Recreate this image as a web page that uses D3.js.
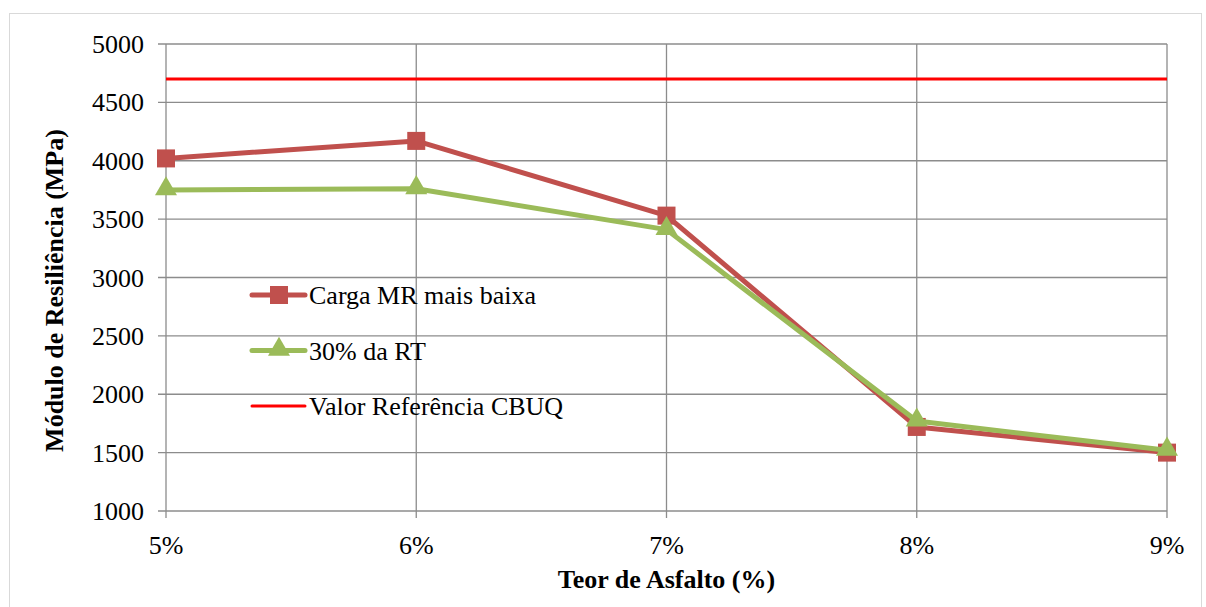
<!DOCTYPE html>
<html>
<head>
<meta charset="utf-8">
<script src="https://cdn.jsdelivr.net/npm/d3@7"></script>
<style>
  body { margin: 0; background: #fff; }
  svg { display: block; }
  text { font-family: "Liberation Serif", "DejaVu Serif", serif; }
</style>
</head>
<body>
<svg id="chart" width="1206" height="607"></svg>
<script>
// Módulo de Resiliência vs teor de asfalto
const categories = ["5%", "6%", "7%", "8%", "9%"];
const cargaMR = [4020, 4170, 3530, 1720, 1500];
const rt30 = [3750, 3760, 3410, 1770, 1520];
const referencia = 4700;
const yTicks = [1000, 1500, 2000, 2500, 3000, 3500, 4000, 4500, 5000];

const svg = d3.select("#chart");
const m = { left: 166, right: 1167, top: 44, bottom: 511 };
const FONT = "Liberation Serif, DejaVu Serif, serif";

// outer frame
svg.append("rect")
  .attr("x", 9.5).attr("y", 13.5)
  .attr("width", 1192).attr("height", 600)
  .attr("fill", "none")
  .attr("stroke", "#d9d9d9")
  .attr("stroke-width", 1);

const x = d3.scalePoint().domain(categories).range([m.left, m.right]);
const y = d3.scaleLinear().domain([1000, 5000]).range([m.bottom, m.top]);

// grid
const grid = svg.append("g").attr("stroke", "#8c8c8c").attr("stroke-width", 1.3);
grid.selectAll("line.h").data(yTicks).join("line")
  .attr("x1", m.left - 8).attr("x2", m.right)
  .attr("y1", d => y(d)).attr("y2", d => y(d));
grid.selectAll("line.v").data(categories).join("line")
  .attr("x1", d => x(d)).attr("x2", d => x(d))
  .attr("y1", m.top).attr("y2", m.bottom + 7);

// y tick labels
svg.append("g").selectAll("text").data(yTicks).join("text")
  .attr("x", m.left - 22)
  .attr("y", d => y(d))
  .attr("dy", "0.35em")
  .attr("text-anchor", "end")
  .attr("font-family", FONT)
  .attr("font-size", 26)
  .attr("fill", "#000")
  .text(d => d);

// x tick labels
svg.append("g").selectAll("text").data(categories).join("text")
  .attr("x", d => x(d))
  .attr("y", m.bottom + 43)
  .attr("text-anchor", "middle")
  .attr("font-family", FONT)
  .attr("font-size", 26)
  .attr("fill", "#000")
  .text(d => d);

// axis titles
svg.append("text")
  .attr("x", (m.left + m.right) / 2).attr("y", 588)
  .attr("text-anchor", "middle")
  .attr("font-family", FONT)
  .attr("font-size", 26).attr("font-weight", "bold")
  .text("Teor de Asfalto (%)");
svg.append("text")
  .attr("transform", `translate(63,${(m.top + m.bottom) / 2 + 13}) rotate(-90)`)
  .attr("text-anchor", "middle")
  .attr("font-family", FONT)
  .attr("font-size", 26).attr("font-weight", "bold")
  .text("Módulo de Resiliência (MPa)");

// reference line
svg.append("line")
  .attr("x1", m.left).attr("x2", m.right)
  .attr("y1", y(referencia)).attr("y2", y(referencia))
  .attr("stroke", "#ff0000").attr("stroke-width", 3);

const line = d3.line().x((d, i) => x(categories[i])).y(d => y(d));
const red = "#c0504d", green = "#9bbb59";
const tri = d3.symbol().type(d3.symbolTriangle).size(210);

svg.append("path").datum(cargaMR)
  .attr("d", line).attr("fill", "none")
  .attr("stroke", red).attr("stroke-width", 5).attr("stroke-linejoin", "round");
svg.append("g").selectAll("rect").data(cargaMR).join("rect")
  .attr("x", (d, i) => x(categories[i]) - 9)
  .attr("y", d => y(d) - 9)
  .attr("width", 18).attr("height", 18)
  .attr("fill", red);

svg.append("path").datum(rt30)
  .attr("d", line).attr("fill", "none")
  .attr("stroke", green).attr("stroke-width", 5).attr("stroke-linejoin", "round");
svg.append("g").selectAll("path").data(rt30).join("path")
  .attr("d", tri)
  .attr("transform", (d, i) => `translate(${x(categories[i])},${y(d) - 1})`)
  .attr("fill", green);

// legend
const legend = [
  { label: "Carga MR mais baixa", color: red, marker: "square", w: 5 },
  { label: "30% da RT", color: green, marker: "triangle", w: 5 },
  { label: "Valor Referência CBUQ", color: "#ff0000", marker: null, w: 3 }
];
const lg = svg.append("g").attr("transform", "translate(252,295)");
legend.forEach((d, i) => {
  const g = lg.append("g").attr("transform", `translate(0,${i * 55.5})`);
  g.append("line").attr("x1", 0).attr("x2", 53)
    .attr("stroke", d.color).attr("stroke-width", d.w).attr("stroke-linecap", "round");
  if (d.marker === "square") {
    g.append("rect").attr("x", 27 - 9).attr("y", -9).attr("width", 18).attr("height", 18).attr("fill", d.color);
  } else if (d.marker === "triangle") {
    g.append("path").attr("d", tri).attr("transform", "translate(27,-1)").attr("fill", d.color);
  }
  g.append("text").attr("x", 57).attr("dy", "0.35em")
    .attr("font-family", FONT)
    .attr("font-size", 26).text(d.label);
});
</script>
</body>
</html>
